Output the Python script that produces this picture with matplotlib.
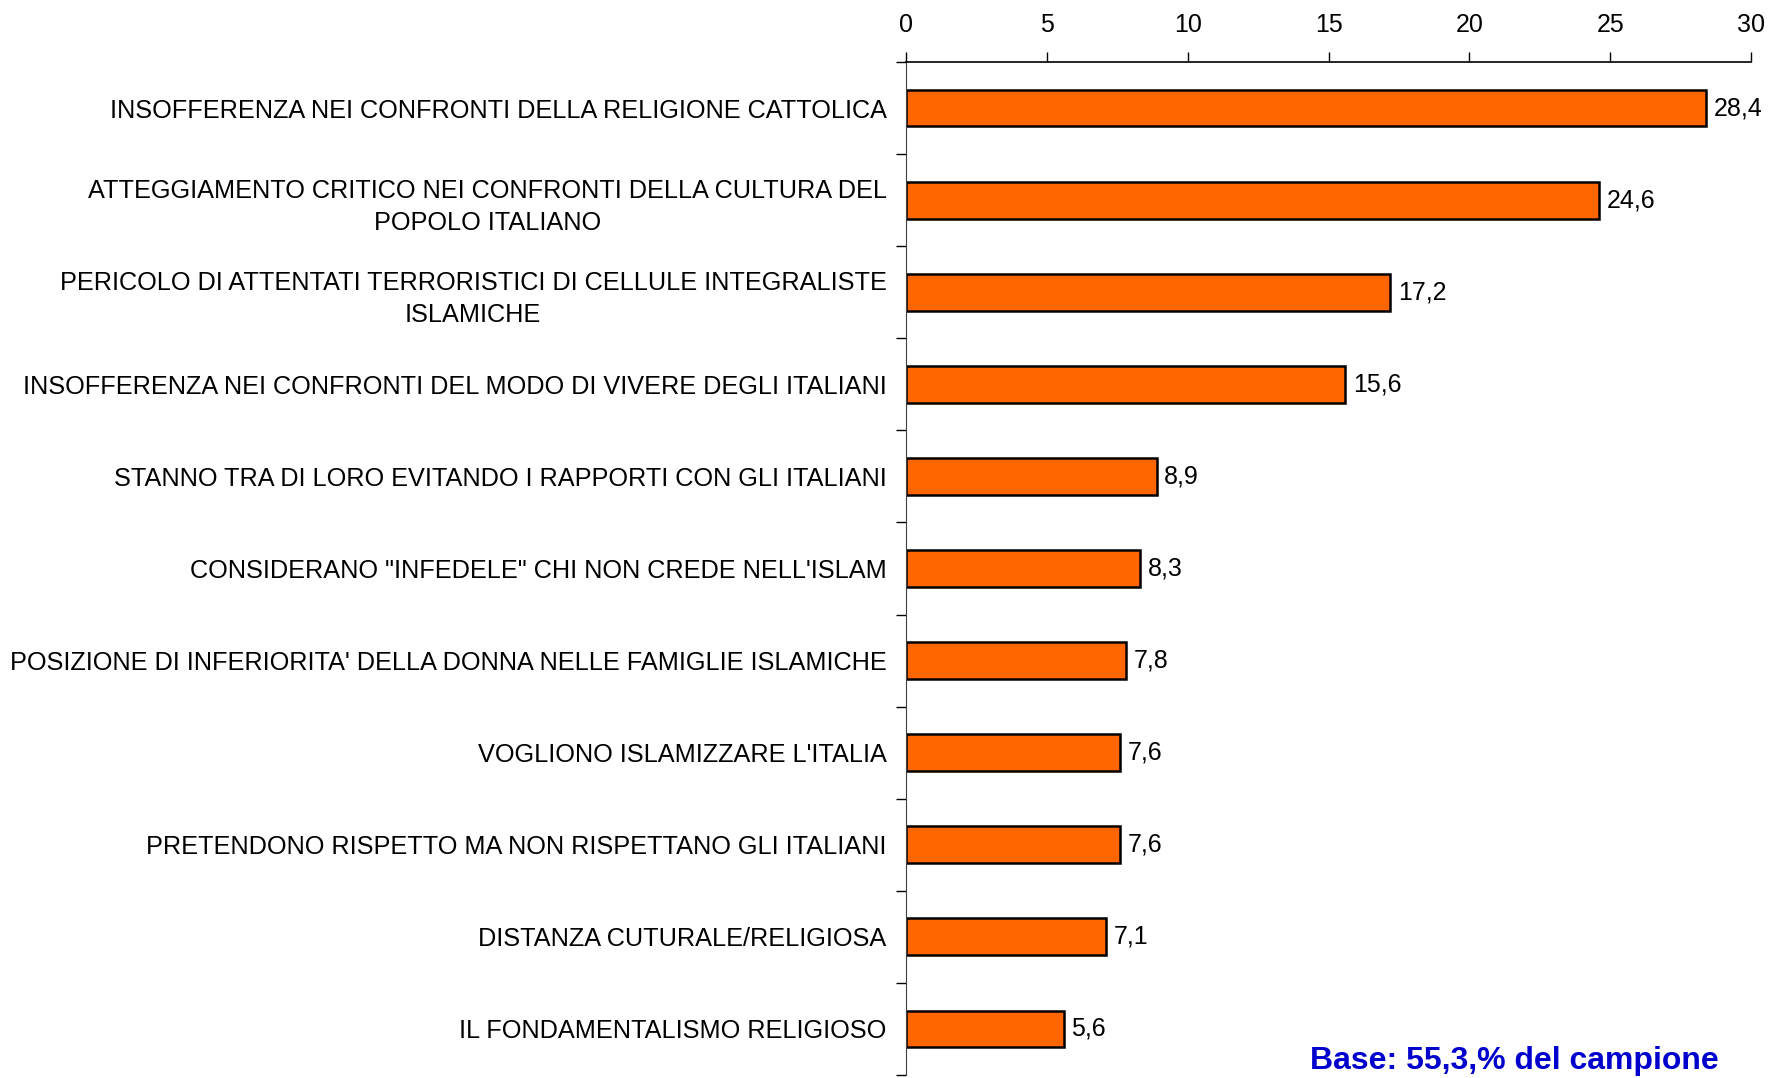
import matplotlib
matplotlib.use("Agg")
import matplotlib.pyplot as plt
import numpy as np

categories = [
    "INSOFFERENZA NEI CONFRONTI DELLA RELIGIONE CATTOLICA",
    "ATTEGGIAMENTO CRITICO NEI CONFRONTI DELLA CULTURA DEL\nPOPOLO ITALIANO",
    "PERICOLO DI ATTENTATI TERRORISTICI DI CELLULE INTEGRALISTE\nISLAMICHE",
    "INSOFFERENZA NEI CONFRONTI DEL MODO DI VIVERE DEGLI ITALIANI",
    "STANNO TRA DI LORO EVITANDO I RAPPORTI CON GLI ITALIANI",
    "CONSIDERANO \"INFEDELE\" CHI NON CREDE NELL'ISLAM",
    "POSIZIONE DI INFERIORITA' DELLA DONNA NELLE FAMIGLIE ISLAMICHE",
    "VOGLIONO ISLAMIZZARE L'ITALIA",
    "PRETENDONO RISPETTO MA NON RISPETTANO GLI ITALIANI",
    "DISTANZA CUTURALE/RELIGIOSA",
    "IL FONDAMENTALISMO RELIGIOSO",
]
values = [28.4, 24.6, 17.2, 15.6, 8.9, 8.3, 7.8, 7.6, 7.6, 7.1, 5.6]
xticks = [0, 5, 10, 15, 20, 25, 30]
note = "Base: 55,3,% del campione"

plt.rcParams['font.family'] = ['Liberation Sans', 'DejaVu Sans']

fig = plt.figure(figsize=(17.71, 10.78), dpi=100)
ax = fig.add_axes([0.5116, 0.0028, 0.9887 - 0.5116, 0.9425 - 0.0028])

y = np.arange(len(categories))
ax.barh(y, values, height=0.4, color='#FF6600', edgecolor='black', linewidth=1.8)

ax.set_xlim(0, 30)
ax.set_ylim(len(categories) - 0.5, -0.5)

ax.xaxis.tick_top()
ax.set_xticks(xticks)
ax.set_xticklabels([str(t) for t in xticks], fontsize=18)
ax.tick_params(axis='x', direction='out', length=7, width=1, pad=11, top=True, bottom=False)

ax.set_yticks(y)
ax.set_yticklabels(categories, fontsize=18.2, ha='right', multialignment='center', linespacing=1.42)
ax.tick_params(axis='y', which='major', length=0, pad=14)
ax.set_yticks(np.arange(len(categories) + 1) - 0.5, minor=True)
ax.tick_params(axis='y', which='minor', direction='out', length=7, width=1)

for s in ['right', 'bottom']:
    ax.spines[s].set_visible(False)
ax.spines['left'].set_color('#404040')
ax.spines['top'].set_linewidth(1.2)

for yi, v in zip(y, values):
    ax.text(v + 0.27, yi, f"{v:.1f}".replace('.', ','), va='center', ha='left', fontsize=18)

fig.text(1310 / 1771, 9 / 1078, note, fontsize=23, fontweight='bold', color='#0000CC',
         ha='left', va='baseline')

fig.savefig('out.png', dpi=100)
